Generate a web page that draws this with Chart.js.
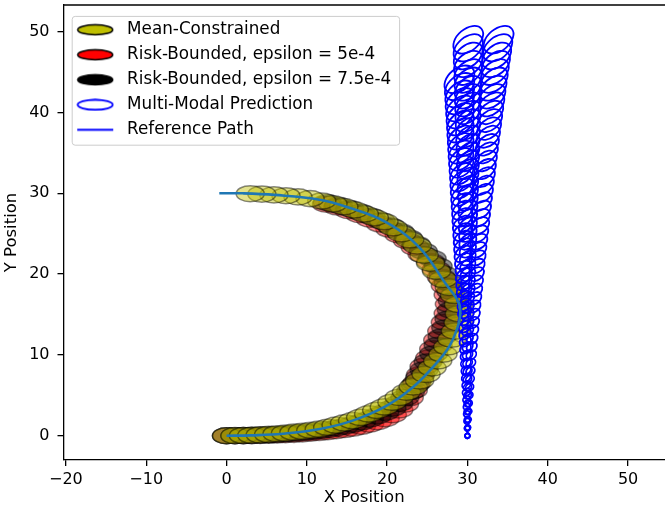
<!DOCTYPE html>
<html>
<head>
<meta charset="utf-8">
<script src="https://cdn.jsdelivr.net/npm/chart.js@4.4.1/dist/chart.umd.min.js"></script>
<style>
  body { margin: 0; background: #fff; }
  #wrap { width: 665px; height: 508px; }
</style>
</head>
<body>
<div id="wrap"><canvas id="plot"></canvas></div>
<script>
// axis ticks
var xTicks = [-20, -10, 0, 10, 20, 30, 40, 50];
var yTicks = [0, 10, 20, 30, 40, 50];

// reference path
var refX = [0, 3, 7, 11.6, 15.7, 19.9, 23.2, 25.7, 27.7, 28.8, 29.1, 28.9, 27.3, 24.0, 19.9, 15.3, 11.6, 6, 2, -0.9];
var refY = [0, 0.05, 0.25, 0.83, 1.87, 3.7, 6, 8.5, 11, 13.5, 15, 16.5, 18.8, 23.3, 26.4, 28.2, 29.2, 29.8, 30, 30];

// mean-constrained trajectory (ellipse centres)
var meanX = [0, 1.05, 2.1, 3.15, 4.2, 5.25, 6.3, 7.35, 8.4, 9.45, 10.5, 11.55, 12.6, 13.65, 14.7, 15.7, 16.7, 17.7, 18.7, 19.65,
  20.6, 21.5, 22.4, 23.25, 24.05, 24.85, 25.6, 26.3, 26.95, 27.55, 28.05, 28.5, 28.85, 29.0, 28.9, 28.4, 27.75, 26.95, 26.15, 25.4,
  24.6, 23.75, 22.8, 21.8, 20.75, 19.6, 18.4, 17.15, 15.9, 14.6, 13.25, 11.85, 10.4, 8.9, 7.4, 5.9, 4.4, 2.95];
var meanY = [0, 0.01, 0.03, 0.06, 0.11, 0.17, 0.25, 0.33, 0.44, 0.55, 0.68, 0.82, 1.05, 1.32, 1.6, 1.87, 2.28, 2.7, 3.15, 3.58,
  4.15, 4.75, 5.4, 6.05, 6.8, 7.6, 8.4, 9.25, 10.1, 11.0, 11.95, 12.95, 14.0, 15.1, 16.25, 17.35, 18.35, 19.35, 20.35, 21.35,
  22.35, 23.5, 24.25, 25.0, 25.75, 26.5, 27.0, 27.45, 27.95, 28.35, 28.7, 29.05, 29.35, 29.55, 29.7, 29.8, 29.9, 29.95];

// risk-bounded, epsilon = 5e-4
var riskAX = [0, 1.05, 2.1, 3.15, 4.2, 5.25, 6.3, 7.35, 8.4, 9.45, 10.5, 11.55, 12.6, 13.65, 14.7, 15.75, 16.8, 17.8, 18.8, 19.75,
  20.65, 21.45, 22.15, 22.75, 23.25, 23.7, 24.15, 24.6, 25.3, 25.8, 26.3, 26.8, 27.25, 27.6, 27.75, 27.6, 27.25, 26.75, 26.1, 25.4,
  24.35, 23.5, 22.55, 21.5, 20.35, 19.15, 17.9, 16.6, 15.25, 13.85, 12.45];
var riskAY = [0, 0, 0.01, 0.02, 0.04, 0.06, 0.09, 0.13, 0.18, 0.24, 0.31, 0.4, 0.5, 0.62, 0.77, 0.95, 1.17, 1.43, 1.75, 2.12,
  2.6, 3.2, 3.9, 4.7, 5.6, 6.55, 7.55, 8.6, 9.65, 10.75, 11.85, 12.95, 14.05, 15.15, 16.3, 17.45, 18.55, 19.6, 20.6, 21.55,
  22.45, 23.3, 24.1, 24.85, 25.55, 26.2, 26.8, 27.35, 27.85, 28.3, 28.65];

// risk-bounded, epsilon = 7.5e-4
var riskBX = [0, 1.05, 2.1, 3.15, 4.2, 5.25, 6.3, 7.35, 8.4, 9.45, 10.5, 11.55, 12.6, 13.65, 14.7, 15.75, 16.8, 17.8, 18.75, 19.7,
  20.6, 21.45, 22.2, 22.9, 23.5, 24.05, 24.6, 25.1, 25.8, 26.35, 26.85, 27.3, 27.7, 28.0, 28.1, 27.95, 27.6, 27.0, 26.35, 25.6,
  24.5, 23.6, 22.65, 21.6, 20.45, 19.25, 18.0, 16.7, 15.35, 13.95, 12.55];
var riskBY = [0, 0, 0.02, 0.04, 0.07, 0.11, 0.16, 0.22, 0.3, 0.39, 0.49, 0.6, 0.76, 0.95, 1.17, 1.4, 1.7, 2.05, 2.45, 2.88,
  3.4, 4.0, 4.7, 5.45, 6.3, 7.2, 8.15, 9.15, 10.15, 11.2, 12.25, 13.35, 14.45, 15.55, 16.7, 17.85, 18.95, 20.0, 21.0, 21.95,
  22.85, 23.7, 24.5, 25.25, 25.95, 26.6, 27.15, 27.65, 28.1, 28.5, 28.85];

// multi-modal prediction: three modes, one ellipse per step
var predAX = [30, 30, 30, 30, 30.01, 30.01, 30.01, 30.01, 30.02, 30.02, 30.02, 30.02, 30.02, 30.03, 30.03, 30.03, 30.03, 30.03, 30.04, 30.04,
  30.04, 30.04, 30.04, 30.05, 30.05, 30.05, 30.05, 30.05, 30.06, 30.06, 30.06, 30.06, 30.06, 30.07, 30.07, 30.07, 30.07, 30.07, 30.08, 30.08,
  30.08, 30.08, 30.08, 30.09, 30.09, 30.09, 30.09, 30.09, 30.1, 30.1];
var predAY = [0, 1, 2, 3, 4, 5, 6, 7, 8, 9, 10, 11, 12, 13, 14, 15, 16, 17, 18, 19,
  20, 21, 22, 23, 24, 25, 26, 27, 28, 29, 30, 31, 32, 33, 34, 35, 36, 37, 38, 39,
  40, 41, 42, 43, 44, 45, 46, 47, 48, 49];
var predBX = [30, 30.04, 30.08, 30.13, 30.17, 30.22, 30.27, 30.32, 30.37, 30.42, 30.48, 30.54, 30.6, 30.66, 30.72, 30.78, 30.84, 30.91, 30.98, 31.05,
  31.12, 31.19, 31.27, 31.34, 31.42, 31.5, 31.58, 31.66, 31.75, 31.83, 31.92, 32.01, 32.1, 32.19, 32.28, 32.38, 32.48, 32.58, 32.68, 32.78,
  32.88, 32.99, 33.09, 33.2, 33.31, 33.42, 33.53, 33.65, 33.76, 33.88];
var predBY = [0, 1, 2, 3, 4, 5, 6, 7, 8, 9, 10, 11, 12, 13, 14, 15, 16, 17, 18, 19,
  20, 21, 22, 23, 24, 25, 26, 27, 28, 29, 30, 31, 32, 33, 34, 35, 36, 37, 38, 39,
  40, 41, 42, 43, 44, 45, 46, 47, 48, 49];
var predCX = [30, 29.98, 29.96, 29.94, 29.92, 29.9, 29.88, 29.86, 29.84, 29.82, 29.8, 29.78, 29.76, 29.73, 29.71, 29.69, 29.67, 29.65, 29.63, 29.61,
  29.59, 29.57, 29.55, 29.53, 29.51, 29.49, 29.47, 29.45, 29.43, 29.41, 29.39, 29.37, 29.35, 29.33, 29.31, 29.29, 29.27, 29.25, 29.22, 29.2,
  29.18, 29.16, 29.14, 29.12, 29.1, 29.08, 29.06, 29.04, 29.02, 29.0];
var predCY = [0, 0.9, 1.8, 2.7, 3.6, 4.5, 5.4, 6.3, 7.2, 8.1, 9, 9.9, 10.8, 11.7, 12.6, 13.5, 14.4, 15.3, 16.2, 17.1,
  18, 18.9, 19.8, 20.7, 21.6, 22.5, 23.4, 24.3, 25.2, 26.1, 27, 27.9, 28.8, 29.7, 30.6, 31.5, 32.4, 33.3, 34.2, 35.1,
  36, 36.9, 37.8, 38.7, 39.6, 40.5, 41.4, 42.3, 43.2, 44.1];
// prediction covariance semi-axes per step (data units)
var predMajor = [0.3, 0.34, 0.38, 0.41, 0.45, 0.49, 0.53, 0.56, 0.6, 0.64, 0.68, 0.71, 0.75, 0.79, 0.83, 0.86, 0.9, 0.94, 0.98, 1.01,
  1.05, 1.09, 1.13, 1.16, 1.2, 1.24, 1.28, 1.31, 1.35, 1.39, 1.43, 1.46, 1.5, 1.54, 1.58, 1.61, 1.65, 1.69, 1.73, 1.76,
  1.8, 1.84, 1.88, 1.91, 1.95, 1.99, 2.03, 2.06, 2.1, 2.14];
var predMinor = [0.3, 0.32, 0.34, 0.36, 0.39, 0.41, 0.43, 0.45, 0.47, 0.49, 0.51, 0.54, 0.56, 0.58, 0.6, 0.62, 0.64, 0.66, 0.69, 0.71,
  0.73, 0.75, 0.77, 0.79, 0.81, 0.84, 0.86, 0.88, 0.9, 0.92, 0.94, 0.96, 0.99, 1.01, 1.03, 1.05, 1.07, 1.09, 1.11, 1.14,
  1.16, 1.18, 1.2, 1.22, 1.24, 1.26, 1.29, 1.31, 1.33, 1.35];

var FONT = "'DejaVu Sans', sans-serif";

function pts(xs, ys) {
  return xs.map(function (v, i) { return { x: v, y: ys[i] }; });
}
function predPts(xs, ys) {
  return xs.map(function (v, i) { return { x: v, y: ys[i], a: predMajor[i], b: predMinor[i] }; });
}

// little canvases for the legend markers
function marker(draw) {
  var c = document.createElement('canvas');
  c.width = 38; c.height = 13;
  draw(c.getContext('2d'));
  return c;
}
function ellMarker(fill, stroke, lw) {
  return marker(function (g) {
    g.beginPath();
    g.ellipse(19, 6.5, 17.5, 5, 0, 0, Math.PI * 2);
    if (fill) { g.fillStyle = fill; g.fill(); }
    g.lineWidth = lw; g.strokeStyle = stroke; g.stroke();
  });
}
var legendItems = [
  { text: 'Mean-Constrained', pointStyle: ellMarker('rgb(191,191,0)', '#000', 1.5) },
  { text: 'Risk-Bounded, epsilon = 5e-4', pointStyle: ellMarker('rgb(255,0,0)', '#000', 1.5) },
  { text: 'Risk-Bounded, epsilon = 7.5e-4', pointStyle: ellMarker('#000', '#000', 1.5) },
  { text: 'Multi-Modal Prediction', pointStyle: ellMarker(null, 'rgb(0,0,255)', 1.8) },
  { text: 'Reference Path', pointStyle: marker(function (g) {
      g.beginPath(); g.moveTo(1, 6.5); g.lineTo(37, 6.5);
      g.lineWidth = 1.8; g.strokeStyle = 'rgb(0,0,255)'; g.stroke();
    }) }
].map(function (it) {
  it.fillStyle = 'transparent'; it.strokeStyle = 'transparent'; it.lineWidth = 0;
  it.hidden = false; it.fontColor = '#000';
  return it;
});

// draws every dataset that has an "ellipse" style, through the chart scales
var ellipsePlugin = {
  id: 'ellipses',
  beforeDatasetsDraw: function (chart) {
    var ctx = chart.ctx, a = chart.chartArea, xs = chart.scales.x, ys = chart.scales.y;
    ctx.save();
    ctx.beginPath();
    ctx.rect(a.left, a.top, a.right - a.left, a.bottom - a.top);
    ctx.clip();
    chart.data.datasets.forEach(function (ds) {
      var e = ds.ellipse;
      if (!e) return;
      ds.data.forEach(function (p) {
        var cx = xs.getPixelForValue(p.x), cy = ys.getPixelForValue(p.y);
        var rx = xs.getPixelForValue(p.x + (p.a !== undefined ? p.a : e.rx)) - cx;
        var ry = cy - ys.getPixelForValue(p.y + (p.b !== undefined ? p.b : e.ry));
        ctx.beginPath();
        ctx.ellipse(cx, cy, rx, ry, -e.angle * Math.PI / 180, 0, Math.PI * 2);
        if (e.fill) { ctx.fillStyle = e.fill; ctx.fill(); }
        ctx.lineWidth = e.lw;
        ctx.strokeStyle = e.stroke;
        ctx.stroke();
      });
    });
    ctx.restore();
  }
};

// top spine + legend frame
var framePlugin = {
  id: 'frame',
  beforeDraw: function (chart) {
    var ctx = chart.ctx;
    var hb = chart.legend.legendHitBoxes;
    if (hb && hb.length) {
      var l = Infinity, t = Infinity, r = -Infinity, b = -Infinity;
      hb.forEach(function (h) {
        l = Math.min(l, h.left); t = Math.min(t, h.top);
        r = Math.max(r, h.left + h.width); b = Math.max(b, h.top + h.height);
      });
      ctx.save();
      ctx.beginPath();
      ctx.roundRect(l + 0.5, t - 5, r - l + 8, b - t + 12, 3);
      ctx.fillStyle = 'rgba(255,255,255,0.8)';
      ctx.fill();
      ctx.lineWidth = 1;
      ctx.strokeStyle = '#cccccc';
      ctx.stroke();
      ctx.restore();
    }
  },
  afterDraw: function (chart) {
    var ctx = chart.ctx, a = chart.chartArea;
    ctx.save();
    ctx.beginPath();
    ctx.moveTo(a.left, a.top);
    ctx.lineTo(a.right, a.top);
    ctx.lineWidth = 1.3;
    ctx.strokeStyle = '#000';
    ctx.stroke();
    ctx.restore();
  }
};

function fmt(v) { return v < 0 ? '\u2212' + Math.abs(v) : String(v); }

var trackStyle = { rx: 1.75, ry: 1.0, angle: 0, stroke: 'rgba(0,0,0,0.45)', lw: 1.5 };
function track(fill) { return Object.assign({}, trackStyle, { fill: fill }); }
var predStyle = { angle: 40, fill: null, stroke: 'rgb(0,0,255)', lw: 1.8 };

new Chart(document.getElementById('plot'), {
  type: 'scatter',
  data: {
    datasets: [
      { label: 'Risk-Bounded, epsilon = 5e-4', data: pts(riskAX, riskAY), pointRadius: 0, ellipse: track('rgba(255,0,0,0.45)') },
      { label: 'Risk-Bounded, epsilon = 7.5e-4', data: pts(riskBX, riskBY), pointRadius: 0, ellipse: track('rgba(0,0,0,0.45)') },
      { label: 'Mean-Constrained', data: pts(meanX, meanY), pointRadius: 0, ellipse: track('rgba(191,191,0,0.45)') },
      { label: 'Multi-Modal Prediction', data: predPts(predAX, predAY), pointRadius: 0, ellipse: predStyle },
      { label: 'Multi-Modal Prediction B', data: predPts(predBX, predBY), pointRadius: 0, ellipse: predStyle },
      { label: 'Multi-Modal Prediction C', data: predPts(predCX, predCY), pointRadius: 0, ellipse: predStyle },
      { label: 'Reference Path', data: pts(refX, refY), showLine: true, pointRadius: 0,
        borderColor: '#1f77b4', borderWidth: 2.6, tension: 0.4, fill: false }
    ]
  },
  options: {
    responsive: true,
    maintainAspectRatio: false,
    animation: false,
    events: [],
    layout: { padding: { top: 5, right: 0, left: 0, bottom: 0 } },
    scales: {
      x: {
        type: 'linear', min: -20.3, max: 54.6,
        afterBuildTicks: function (s) { s.ticks = xTicks.map(function (v) { return { value: v }; }); },
        afterFit: function (s) { s.height = 48; },
        grid: { drawOnChartArea: false, drawTicks: true, tickLength: 6, color: '#000', lineWidth: 1.3 },
        border: { display: true, color: '#000', width: 1.3 },
        ticks: { callback: fmt, color: '#000', font: { family: FONT, size: 16 }, padding: 4, maxRotation: 0, autoSkip: false },
        title: { display: true, text: 'X Position', color: '#000', font: { family: FONT, size: 16.5 }, padding: { top: 0, bottom: 0 } }
      },
      y: {
        type: 'linear', min: -3.0, max: 53.3,
        afterBuildTicks: function (s) { s.ticks = yTicks.map(function (v) { return { value: v }; }); },
        afterFit: function (s) { s.width = 63.5; s.paddingTop = 0; s.paddingBottom = 0; },
        grid: { drawOnChartArea: false, drawTicks: true, tickLength: 6, color: '#000', lineWidth: 1.3 },
        border: { display: true, color: '#000', width: 1.3 },
        ticks: { callback: fmt, color: '#000', font: { family: FONT, size: 16 }, padding: 8, autoSkip: false },
        title: { display: true, text: 'Y Position', color: '#000', font: { family: FONT, size: 16.5 }, padding: { top: 2, bottom: 2 } }
      }
    },
    plugins: {
      tooltip: { enabled: false },
      legend: {
        position: 'chartArea',
        align: 'start',
        title: { display: true, text: '', font: { size: 1 }, padding: { top: 12, bottom: 0 } },
        labels: {
          usePointStyle: true,
          pointStyleWidth: 47,
          padding: 8.2,
          color: '#000',
          font: { family: FONT, size: 16.8 },
          generateLabels: function () { return legendItems; }
        }
      }
    }
  },
  plugins: [ellipsePlugin, framePlugin]
});
</script>
</body>
</html>
